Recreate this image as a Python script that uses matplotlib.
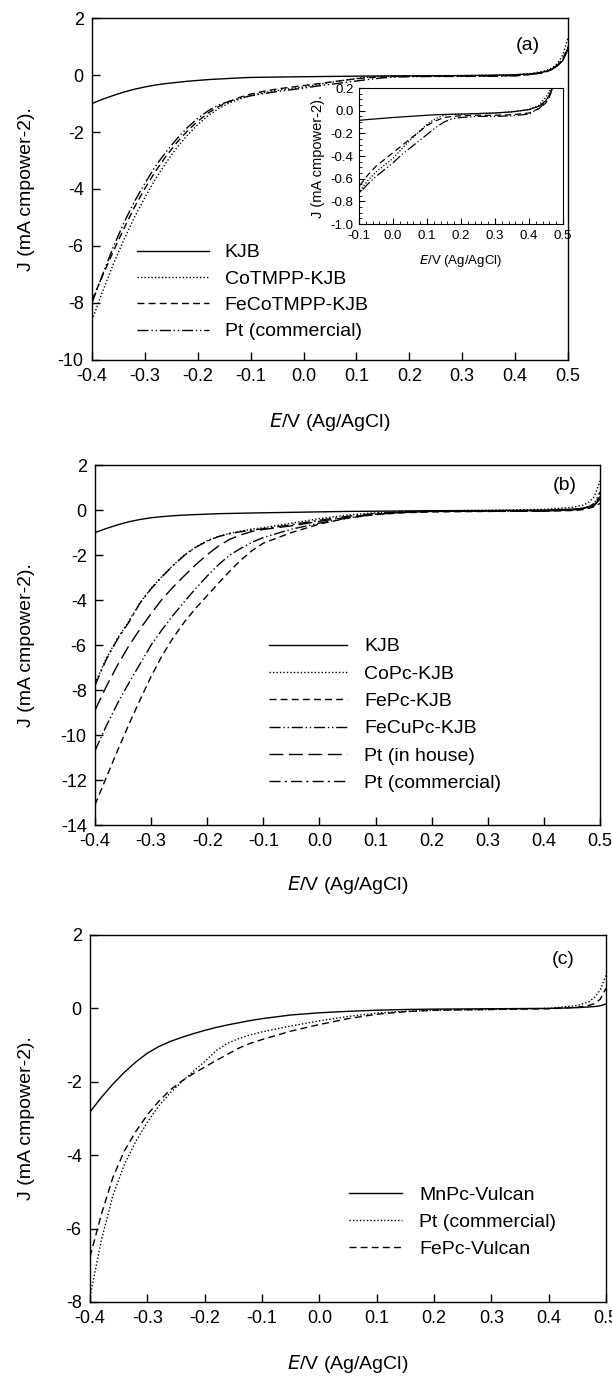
import matplotlib
matplotlib.use("Agg")
import matplotlib.pyplot as plt
from matplotlib.ticker import MultipleLocator, FormatStrFormatter

plt.rcParams['font.family'] = ['Liberation Sans', 'DejaVu Sans']
plt.rcParams['axes.unicode_minus'] = False

# ---------------- panel (a) data ----------------
E_a = [-0.40, -0.38, -0.36, -0.34, -0.32, -0.30, -0.28, -0.26, -0.24, -0.22,
       -0.20, -0.18, -0.16, -0.14, -0.12, -0.10, -0.075, -0.05, -0.025, 0.00,
       0.025, 0.05, 0.075, 0.10, 0.125, 0.15, 0.175, 0.20, 0.25, 0.30,
       0.35, 0.40, 0.43, 0.45, 0.46, 0.47, 0.48, 0.49, 0.50]
kjb_a = [-1.0, -0.85, -0.72, -0.6, -0.5, -0.42, -0.35, -0.3, -0.26, -0.22,
         -0.19, -0.16, -0.14, -0.12, -0.10, -0.085, -0.078, -0.072, -0.066, -0.06,
         -0.055, -0.05, -0.045, -0.04, -0.036, -0.033, -0.031, -0.03, -0.025, -0.02,
         -0.01, 0.01, 0.04, 0.09, 0.14, 0.2, 0.32, 0.5, 0.9]
cotmpp_a = [-8.6, -7.6, -6.65, -5.8, -5.0, -4.3, -3.65, -3.08, -2.56, -2.12,
            -1.74, -1.42, -1.17, -0.98, -0.84, -0.72, -0.62, -0.54, -0.48, -0.42,
            -0.34, -0.26, -0.19, -0.12, -0.07, -0.04, -0.03, -0.03, -0.025, -0.02,
            -0.01, 0.01, 0.05, 0.12, 0.17, 0.25, 0.4, 0.7, 1.3]
fecotmpp_a = [-7.9, -7.05, -6.2, -5.4, -4.65, -3.98, -3.38, -2.85, -2.38, -1.97,
              -1.62, -1.33, -1.1, -0.93, -0.78, -0.67, -0.57, -0.49, -0.43, -0.37,
              -0.31, -0.25, -0.19, -0.13, -0.09, -0.06, -0.05, -0.045, -0.04, -0.04,
              -0.035, -0.02, 0.02, 0.07, 0.12, 0.2, 0.33, 0.55, 1.0]
pt_a = [-8.0, -7.0, -6.05, -5.2, -4.45, -3.8, -3.2, -2.7, -2.25, -1.85,
        -1.52, -1.25, -1.05, -0.92, -0.81, -0.73, -0.65, -0.58, -0.52, -0.46,
        -0.39, -0.33, -0.27, -0.21, -0.15, -0.10, -0.07, -0.06, -0.05, -0.05,
        -0.045, -0.03, 0.02, 0.08, 0.13, 0.22, 0.35, 0.55, 0.95]

# ---------------- panel (b) data ----------------
E_b = [-0.40, -0.38, -0.36, -0.34, -0.32, -0.30, -0.28, -0.26, -0.24, -0.22,
       -0.20, -0.18, -0.16, -0.14, -0.12, -0.10, -0.05, 0.00, 0.05, 0.10,
       0.15, 0.20, 0.30, 0.40, 0.45, 0.47, 0.48, 0.49, 0.50]
kjb_b = [-1.0, -0.82, -0.66, -0.52, -0.42, -0.34, -0.29, -0.25, -0.22, -0.2,
         -0.18, -0.16, -0.15, -0.14, -0.13, -0.12, -0.1, -0.08, -0.06, -0.05,
         -0.04, -0.03, -0.02, 0.0, 0.04, 0.08, 0.14, 0.25, 0.5]
copc_b = [-7.7, -6.6, -5.7, -4.95, -4.12, -3.48, -2.93, -2.43, -1.98, -1.63,
          -1.36, -1.17, -1.03, -0.93, -0.85, -0.78, -0.58, -0.38, -0.22, -0.12,
          -0.06, -0.03, -0.01, 0.03, 0.12, 0.22, 0.35, 0.6, 1.3]
fepc_b = [-13.1, -11.9, -10.7, -9.55, -8.45, -7.4, -6.45, -5.65, -4.95, -4.35,
          -3.8, -3.25, -2.72, -2.22, -1.8, -1.47, -1.0, -0.62, -0.36, -0.2,
          -0.12, -0.08, -0.06, -0.05, -0.02, 0.02, 0.08, 0.15, 0.3]
fecupc_b = [-10.7, -9.6, -8.6, -7.7, -6.85, -6.0, -5.3, -4.65, -4.05, -3.47,
            -2.93, -2.43, -2.0, -1.7, -1.43, -1.22, -0.85, -0.58, -0.35, -0.18,
            -0.1, -0.06, -0.04, -0.03, 0.02, 0.08, 0.15, 0.3, 0.8]
ptin_b = [-8.9, -7.85, -6.9, -6.05, -5.3, -4.6, -3.95, -3.4, -2.9, -2.42,
          -1.98, -1.6, -1.3, -1.1, -0.95, -0.86, -0.7, -0.5, -0.32, -0.18,
          -0.1, -0.06, -0.05, -0.04, 0.0, 0.05, 0.1, 0.2, 0.5]
ptcom_b = [-7.8, -6.65, -5.75, -5.0, -4.15, -3.5, -2.95, -2.45, -2.0, -1.65,
           -1.38, -1.18, -1.05, -0.96, -0.89, -0.83, -0.65, -0.45, -0.28, -0.15,
           -0.08, -0.05, -0.04, -0.03, 0.02, 0.08, 0.15, 0.3, 0.6]

# ---------------- panel (c) data ----------------
E_c = [-0.40, -0.38, -0.36, -0.34, -0.32, -0.30, -0.28, -0.26, -0.24, -0.22,
       -0.20, -0.18, -0.16, -0.14, -0.12, -0.10, -0.05, 0.00, 0.05, 0.10,
       0.15, 0.20, 0.30, 0.40, 0.45, 0.47, 0.48, 0.49, 0.50]
mnpc_c = [-2.82, -2.42, -2.06, -1.74, -1.46, -1.22, -1.04, -0.9, -0.79, -0.69,
          -0.6, -0.52, -0.45, -0.39, -0.33, -0.28, -0.18, -0.12, -0.08, -0.05,
          -0.03, -0.02, -0.01, 0.0, 0.02, 0.04, 0.05, 0.07, 0.12]
ptcom_c = [-7.85, -6.3, -5.1, -4.25, -3.62, -3.1, -2.66, -2.3, -2.0, -1.72,
           -1.45, -1.15, -0.95, -0.82, -0.72, -0.64, -0.48, -0.34, -0.22, -0.13,
           -0.08, -0.05, -0.03, 0.0, 0.08, 0.18, 0.3, 0.5, 0.9]
fepc_c = [-6.77, -5.6, -4.6, -3.88, -3.35, -2.9, -2.53, -2.22, -1.98, -1.78,
          -1.6, -1.42, -1.25, -1.08, -0.95, -0.85, -0.62, -0.44, -0.28, -0.16,
          -0.09, -0.05, -0.03, -0.01, 0.03, 0.08, 0.13, 0.25, 0.55]

x_ticks = [-0.4, -0.3, -0.2, -0.1, 0.0, 0.1, 0.2, 0.3, 0.4, 0.5]
ylab = "J (mA cmpower-2)."
xlab = r"$\mathit{E}$/V (Ag/AgCl)"

SOLID = '-'
DOT = (0, (1, 1.5))
DASH = (0, (5, 3))
DDOT = (0, (8, 2, 1, 2, 1, 2))
LDASH = (0, (10, 4))
DDASH = (0, (8, 3, 1.5, 3))

fig = plt.figure(figsize=(6.12, 13.76), dpi=100)


def style_main(ax, ylim, yticks, lab_y):
    ax.set_xlim(-0.4, 0.5)
    ax.set_ylim(*ylim)
    ax.set_xticks(x_ticks)
    ax.set_yticks(yticks)
    ax.xaxis.set_major_formatter(FormatStrFormatter('%.1f'))
    ax.tick_params(direction='in', length=6, width=1, labelsize=13,
                   top=False, right=False, pad=6)
    for s in ax.spines.values():
        s.set_linewidth(1.0)
    ax.set_xlabel(xlab, fontsize=14)
    ax.set_ylabel(ylab, fontsize=14)
    ax.xaxis.set_label_coords(0.5, lab_y)


# ---------------- (a) ----------------
ax = fig.add_axes([0.1503, 0.7384, 0.7778, 0.2485])
ax.plot(E_a, kjb_a, color='k', lw=1.0, ls=SOLID, label='KJB')
ax.plot(E_a, cotmpp_a, color='k', lw=1.0, ls=DOT, label='CoTMPP-KJB')
ax.plot(E_a, fecotmpp_a, color='k', lw=1.0, ls=DASH, label='FeCoTMPP-KJB')
ax.plot(E_a, pt_a, color='k', lw=1.0, ls=DDOT, label='Pt (commercial)')
style_main(ax, (-10, 2), [2, 0, -2, -4, -6, -8, -10], -0.149)
ax.yaxis.set_label_coords(-0.12, 0.5)
ax.text(0.915, 0.92, '(a)', transform=ax.transAxes, fontsize=14, ha='center', va='center')
ax.legend(loc='upper left', bbox_to_anchor=(0.095, 0.34), frameon=False,
          fontsize=14, handlelength=3.7, handletextpad=0.8, labelspacing=0.45,
          borderpad=0, borderaxespad=0)

ins = fig.add_axes([0.5866, 0.8372, 0.3333, 0.0988])
ins.set_facecolor('white')
ins.plot(E_a, kjb_a, color='k', lw=0.9, ls=SOLID)
ins.plot(E_a, cotmpp_a, color='k', lw=0.9, ls=DOT)
ins.plot(E_a, fecotmpp_a, color='k', lw=0.9, ls=DASH)
ins.plot(E_a, pt_a, color='k', lw=0.9, ls=DDOT)
ins.set_xlim(-0.1, 0.5)
ins.set_ylim(-1.0, 0.2)
ins.set_xticks([-0.1, 0.0, 0.1, 0.2, 0.3, 0.4, 0.5])
ins.set_yticks([0.2, 0.0, -0.2, -0.4, -0.6, -0.8, -1.0])
ins.xaxis.set_major_formatter(FormatStrFormatter('%.1f'))
ins.yaxis.set_major_formatter(FormatStrFormatter('%.1f'))
ins.xaxis.set_minor_locator(MultipleLocator(0.02))
ins.yaxis.set_minor_locator(MultipleLocator(0.05))
ins.tick_params(which='both', direction='in', labelsize=9.5, top=False, right=False, pad=4)
ins.tick_params(which='major', length=4)
ins.tick_params(which='minor', length=2)
ins.set_ylabel(ylab, fontsize=10.5)
ins.set_xlabel(xlab, fontsize=9.5, labelpad=8)

# ---------------- (b) ----------------
ax = fig.add_axes([0.1552, 0.4004, 0.8252, 0.2616])
ax.plot(E_b, kjb_b, color='k', lw=1.0, ls=SOLID, label='KJB')
ax.plot(E_b, copc_b, color='k', lw=1.0, ls=DOT, label='CoPc-KJB')
ax.plot(E_b, fepc_b, color='k', lw=1.0, ls=DASH, label='FePc-KJB')
ax.plot(E_b, fecupc_b, color='k', lw=1.0, ls=DDOT, label='FeCuPc-KJB')
ax.plot(E_b, ptin_b, color='k', lw=1.0, ls=LDASH, label='Pt (in house)')
ax.plot(E_b, ptcom_b, color='k', lw=1.0, ls=DDASH, label='Pt (commercial)')
style_main(ax, (-14, 2), [2, 0, -2, -4, -6, -8, -10, -12, -14], -0.136)
ax.yaxis.set_label_coords(-0.118, 0.5)
ax.text(0.93, 0.944, '(b)', transform=ax.transAxes, fontsize=14, ha='center', va='center')
ax.legend(loc='upper left', bbox_to_anchor=(0.345, 0.52), frameon=False,
          fontsize=14, handlelength=4.0, handletextpad=0.9, labelspacing=0.5,
          borderpad=0, borderaxespad=0)

# ---------------- (c) ----------------
ax = fig.add_axes([0.1471, 0.0538, 0.8431, 0.2667])
ax.plot(E_c, mnpc_c, color='k', lw=1.0, ls=SOLID, label='MnPc-Vulcan')
ax.plot(E_c, ptcom_c, color='k', lw=1.0, ls=DOT, label='Pt (commercial)')
ax.plot(E_c, fepc_c, color='k', lw=1.0, ls=DASH, label='FePc-Vulcan')
style_main(ax, (-8, 2), [2, 0, -2, -4, -6, -8], -0.139)
ax.yaxis.set_label_coords(-0.107, 0.5)
ax.text(0.917, 0.932, '(c)', transform=ax.transAxes, fontsize=14, ha='center', va='center')
ax.legend(loc='upper left', bbox_to_anchor=(0.502, 0.316), frameon=False,
          fontsize=14, handlelength=2.7, handletextpad=0.9, labelspacing=0.5,
          borderpad=0, borderaxespad=0)

fig.savefig('out.png', dpi=100)
